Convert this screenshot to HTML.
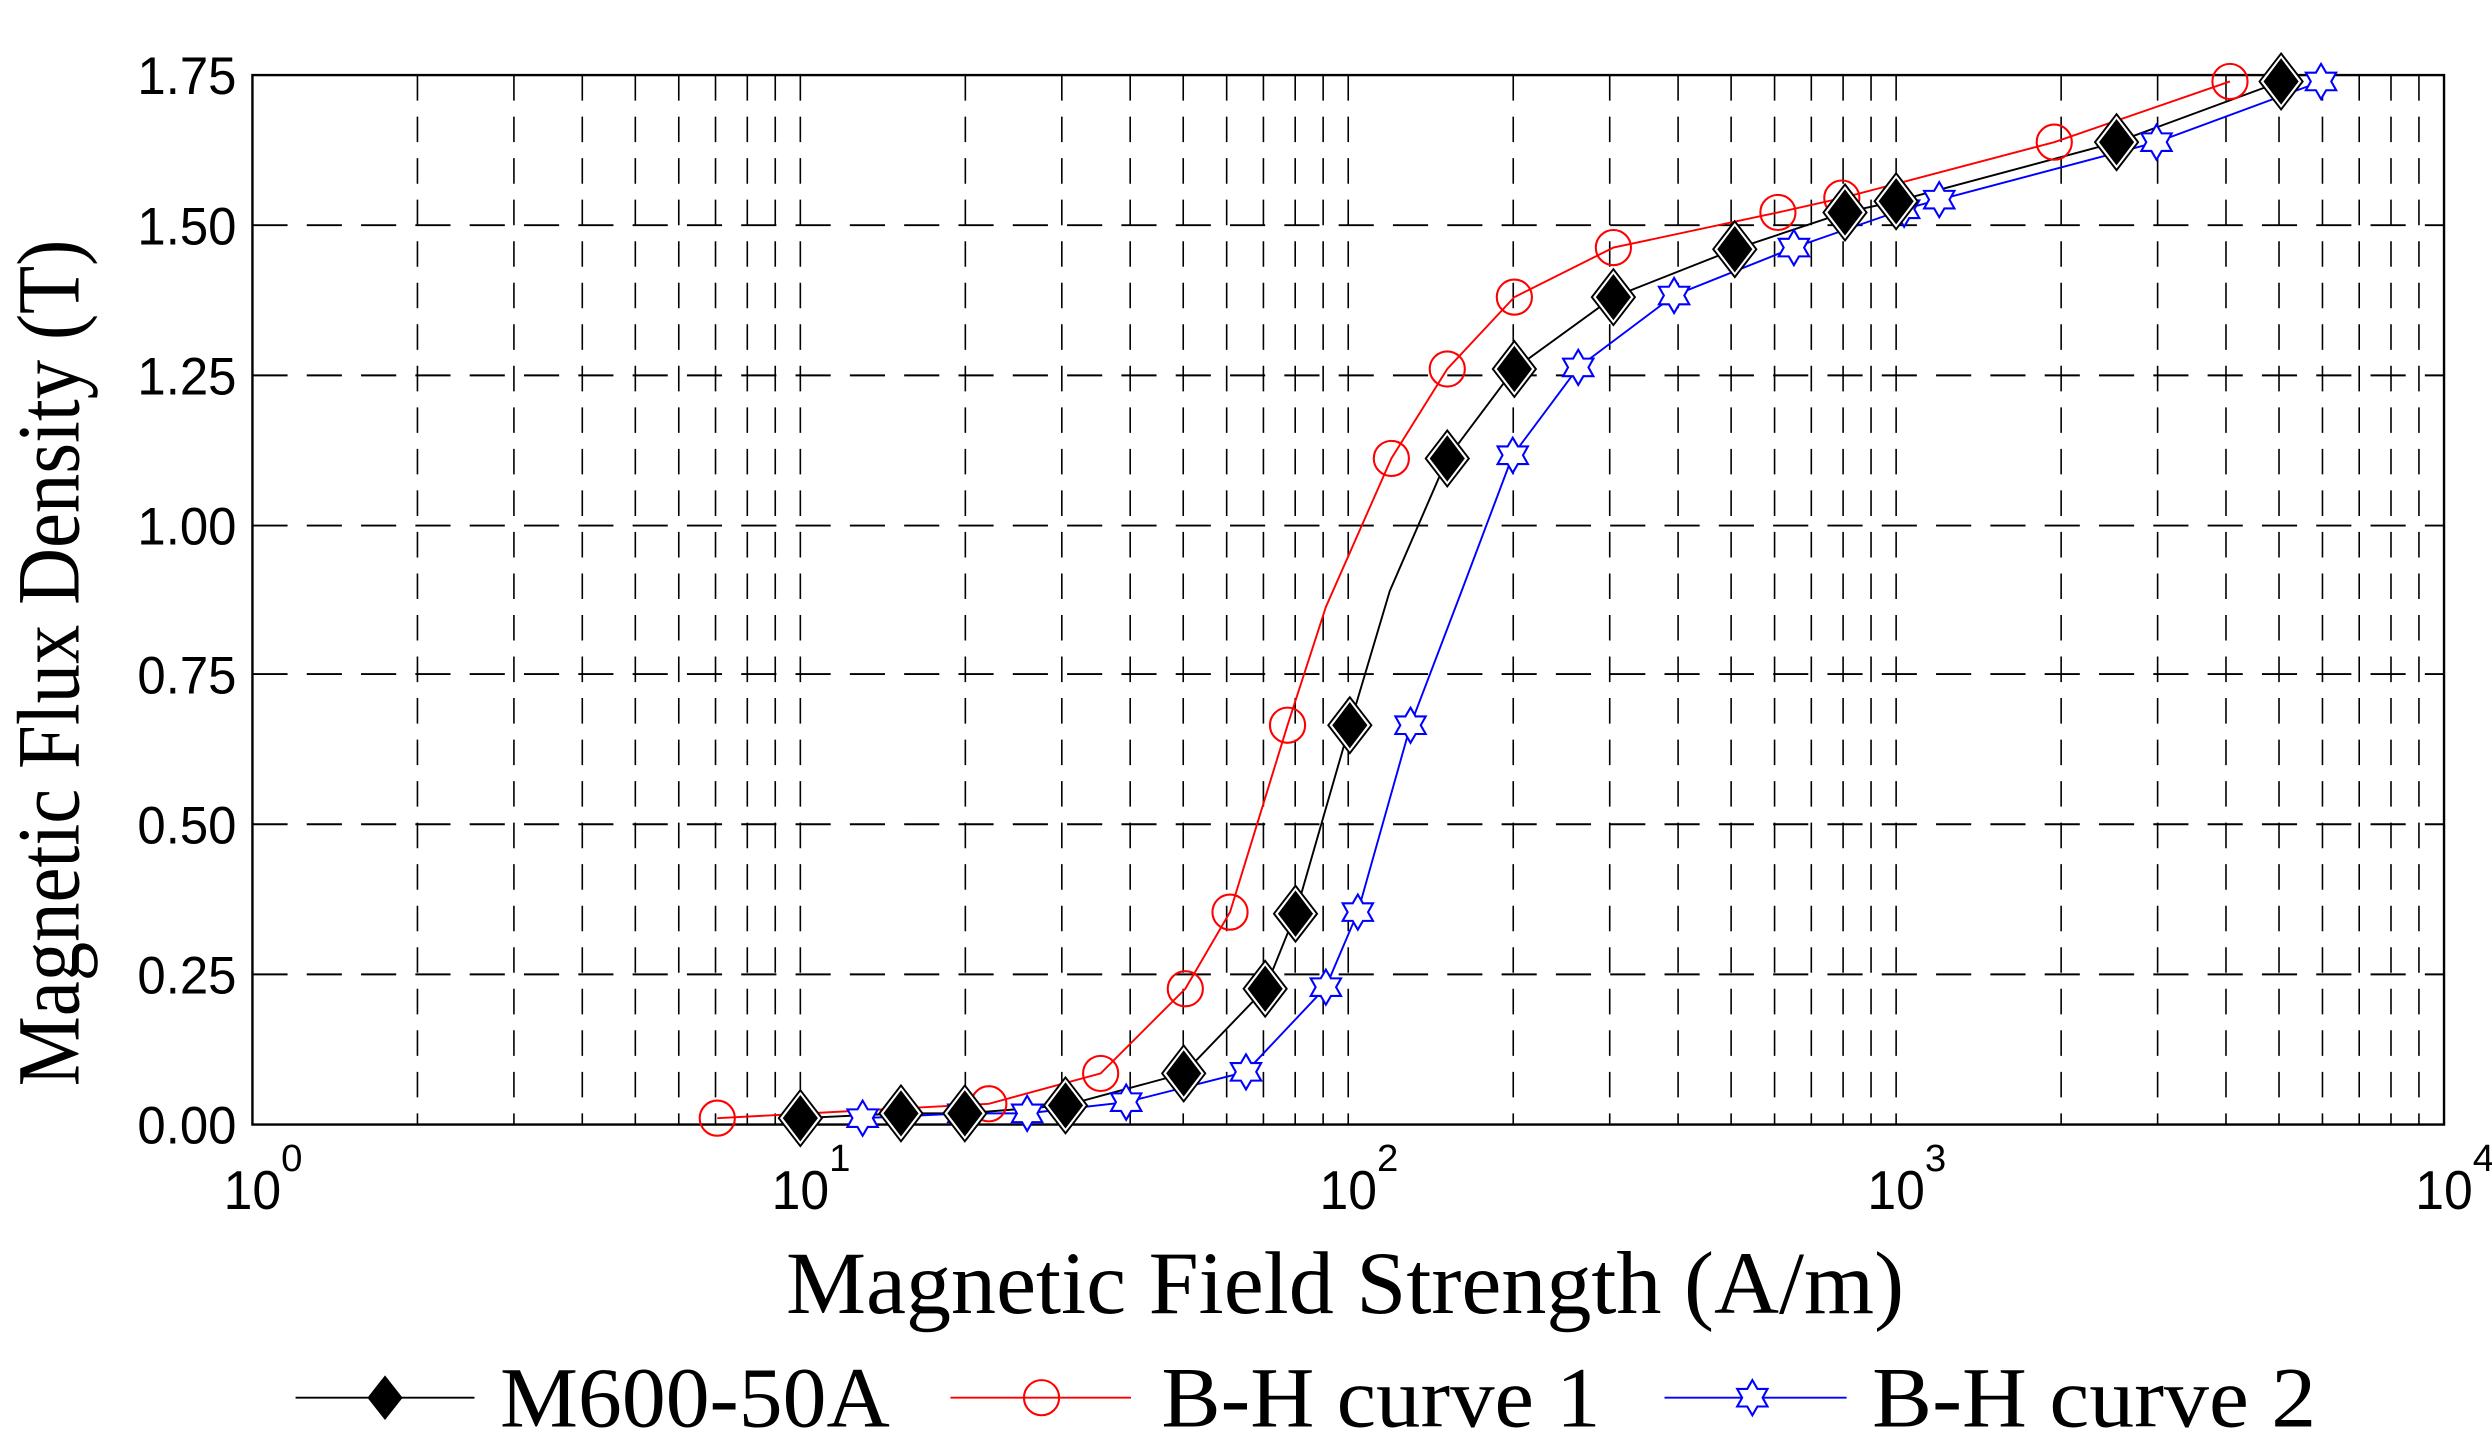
<!DOCTYPE html>
<html><head><meta charset="utf-8"><style>html,body{margin:0;padding:0;background:#fff}svg{display:block}</style></head>
<body>
<svg width="2492" height="1456" viewBox="0 0 1560 911.5" xmlns="http://www.w3.org/2000/svg">
<defs>
<g id="dia"><polygon points="0,-17.5 13.5,0 0,17.5 -13.5,0" fill="#fff" stroke="#000" stroke-width="1.2"/><polygon points="0,-14.5 11,0 0,14.5 -11,0" fill="#000"/></g>
<circle id="cir" r="11" fill="none" stroke="#f00" stroke-width="1.3"/>
<polygon id="star" points="0,-11 3.2,-5.5 9.5,-5.5 6.4,0 9.5,5.5 3.2,5.5 0,11 -3.2,5.5 -9.5,5.5 -6.4,0 -9.5,-5.5 -3.2,-5.5" fill="#fff" stroke="#00f" stroke-width="1.3"/>
</defs>
<g stroke="#000" stroke-width="1" stroke-dasharray="16,10" fill="none">
<path d="M261.3,47V704M321.7,47V704M364.5,47V704M397.7,47V704M424.9,47V704M447.9,47V704M467.8,47V704M485.3,47V704M501,47V704
M604.3,47V704M664.7,47V704M707.5,47V704M740.7,47V704M767.9,47V704M790.9,47V704M810.8,47V704M828.3,47V704M844,47V704
M947.3,47V704M1007.7,47V704M1050.5,47V704M1083.7,47V704M1110.9,47V704M1133.9,47V704M1153.8,47V704M1171.3,47V704M1187,47V704
M1290.3,47V704M1350.7,47V704M1393.5,47V704M1426.7,47V704M1453.9,47V704M1476.9,47V704M1496.8,47V704M1514.3,47V704"/>
</g>
<g stroke="#000" stroke-width="1.2" stroke-dasharray="22,12" fill="none">
<path d="M158,141H1530M158,235H1530M158,329H1530M158,422H1530M158,516H1530M158,610H1530"/>
</g>
<rect x="158" y="47" width="1372" height="657" fill="none" stroke="#000" stroke-width="1.5"/>
<polyline fill="none" stroke="#f00" stroke-width="1.2" points="449,700 619,691 689,672 742,619 770,571 806,454 830,380 871,287 906,231 948,186 1010,155 1113,133 1153,124 1286,89 1396,51"/>
<polyline fill="none" stroke="#000" stroke-width="1.2" points="501,700 564,697 604,697 667,692 741,672 792,619 811,572 845,454 870,370 906,287 948,231 1010,186 1086,156 1155,133 1187,126 1325,89 1428,51"/>
<polyline fill="none" stroke="#00f" stroke-width="1.2" points="540,700 603,697 643,697 705,690 780,671 830,618 850,571 883,454 915,370 947,285 988,230 1048,185 1123,155 1192,131 1214,125 1350,89 1453,51"/>
<g>
<use href="#cir" x="449" y="700"/><use href="#cir" x="619" y="691"/><use href="#cir" x="689" y="672"/><use href="#cir" x="742" y="619"/><use href="#cir" x="770" y="571"/><use href="#cir" x="806" y="454"/><use href="#cir" x="871" y="287"/><use href="#cir" x="906" y="231"/><use href="#cir" x="948" y="186"/><use href="#cir" x="1010" y="155"/><use href="#cir" x="1113" y="133"/><use href="#cir" x="1153" y="124"/><use href="#cir" x="1286" y="89"/><use href="#cir" x="1396" y="51"/>
<use href="#star" x="540" y="700"/><use href="#star" x="603" y="697"/><use href="#star" x="643" y="697"/><use href="#star" x="705" y="690"/><use href="#star" x="780" y="671"/><use href="#star" x="830" y="618"/><use href="#star" x="850" y="571"/><use href="#star" x="883" y="454"/><use href="#star" x="947" y="285"/><use href="#star" x="988" y="230"/><use href="#star" x="1048" y="185"/><use href="#star" x="1123" y="155"/><use href="#star" x="1192" y="131"/><use href="#star" x="1214" y="125"/><use href="#star" x="1350" y="89"/><use href="#star" x="1453" y="51"/>
<use href="#dia" x="501" y="700"/><use href="#dia" x="564" y="697"/><use href="#dia" x="604" y="697"/><use href="#dia" x="667" y="692"/><use href="#dia" x="741" y="672"/><use href="#dia" x="792" y="619"/><use href="#dia" x="811" y="572"/><use href="#dia" x="845" y="454"/><use href="#dia" x="906" y="287"/><use href="#dia" x="948" y="231"/><use href="#dia" x="1010" y="186"/><use href="#dia" x="1086" y="156"/><use href="#dia" x="1155" y="133"/><use href="#dia" x="1187" y="126"/><use href="#dia" x="1325" y="89"/><use href="#dia" x="1428" y="51"/>
</g>
<g font-family="Liberation Sans, sans-serif" font-size="33" fill="#000">
<text x="86" y="59" textLength="62" lengthAdjust="spacingAndGlyphs">1.75</text>
<text x="86" y="153" textLength="62" lengthAdjust="spacingAndGlyphs">1.50</text>
<text x="86" y="247" textLength="62" lengthAdjust="spacingAndGlyphs">1.25</text>
<text x="86" y="341" textLength="62" lengthAdjust="spacingAndGlyphs">1.00</text>
<text x="86" y="434" textLength="62" lengthAdjust="spacingAndGlyphs">0.75</text>
<text x="86" y="528" textLength="62" lengthAdjust="spacingAndGlyphs">0.50</text>
<text x="86" y="622" textLength="62" lengthAdjust="spacingAndGlyphs">0.25</text>
<text x="86" y="716" textLength="62" lengthAdjust="spacingAndGlyphs">0.00</text>
</g>
<g font-family="Liberation Sans, sans-serif" font-size="34" fill="#000">
<text x="140" y="757" textLength="36" lengthAdjust="spacingAndGlyphs">10</text><text x="176" y="733" font-size="24">0</text>
<text x="483" y="757" textLength="36" lengthAdjust="spacingAndGlyphs">10</text><text x="519" y="733" font-size="24">1</text>
<text x="826" y="757" textLength="36" lengthAdjust="spacingAndGlyphs">10</text><text x="862" y="733" font-size="24">2</text>
<text x="1169" y="757" textLength="36" lengthAdjust="spacingAndGlyphs">10</text><text x="1205" y="733" font-size="24">3</text>
<text x="1512" y="757" textLength="36" lengthAdjust="spacingAndGlyphs">10</text><text x="1548" y="733" font-size="24">4</text>
</g>
<text x="492" y="822" font-family="Liberation Serif, serif" font-size="56" textLength="700" lengthAdjust="spacingAndGlyphs">Magnetic Field Strength (A/m)</text>
<text transform="translate(49,680) rotate(-90)" font-family="Liberation Serif, serif" font-size="56" textLength="530" lengthAdjust="spacingAndGlyphs">Magnetic Flux Density (T)</text>
<g font-family="Liberation Serif, serif" font-size="54" fill="#000">
<line x1="185" y1="875" x2="297" y2="875" stroke="#000" stroke-width="1.2"/>
<polygon points="241,861 252,875 241,889 230,875" fill="#000"/>
<text x="313" y="893" textLength="244" lengthAdjust="spacingAndGlyphs">M600-50A</text>
<line x1="595" y1="875" x2="708" y2="875" stroke="#f00" stroke-width="1.2"/>
<use href="#cir" x="652" y="875"/>
<text x="727" y="893" textLength="275" lengthAdjust="spacingAndGlyphs">B-H curve 1</text>
<line x1="1042" y1="875" x2="1156" y2="875" stroke="#00f" stroke-width="1.2"/>
<use href="#star" x="1097" y="875"/>
<text x="1172" y="893" textLength="278" lengthAdjust="spacingAndGlyphs">B-H curve 2</text>
</g>
</svg>
</body></html>
